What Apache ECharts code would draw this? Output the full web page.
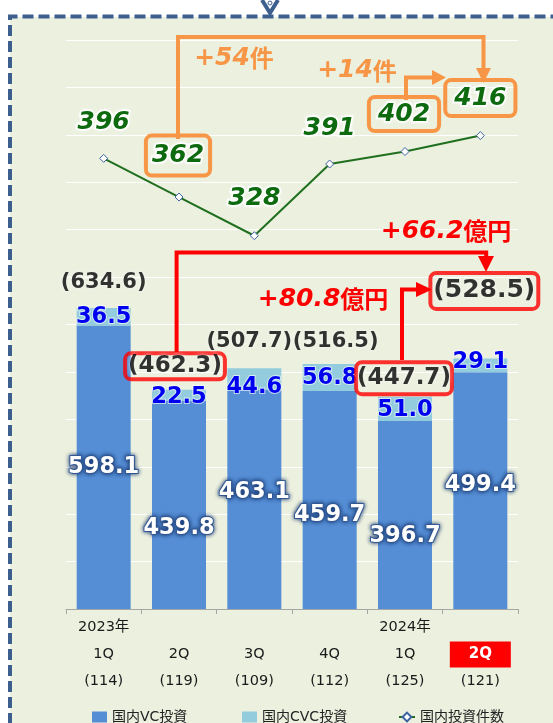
<!DOCTYPE html>
<html><head><meta charset="utf-8">
<script src="https://cdn.jsdelivr.net/npm/echarts@6/dist/echarts.min.js"></script>
<style>
html,body{margin:0;padding:0;background:#fff;}
#bg{position:absolute;left:10px;top:17px;width:543px;height:706px;background:#ebf0df;}
#c{position:absolute;left:0;top:0;width:553px;height:723px;}
</style></head><body><div id="bg"></div><div id="c"></div>
<script>
const categories = ['2023年1Q','2023年2Q','2023年3Q','2023年4Q','2024年1Q','2024年2Q'];
const yearLabels = ['2023年','','','','2024年',''];
const quarterLabels = ['1Q','2Q','3Q','4Q','1Q','2Q'];
const countLabels = ['(114)','(119)','(109)','(112)','(125)','(121)'];
const vcInvest = [598.1,439.8,463.1,459.7,396.7,499.4];
const cvcInvest = [36.5,22.5,44.6,56.8,51.0,29.1];
const dealCounts = [396,362,328,391,402,416];
const totals = vcInvest.map((v,i)=>Math.round((v+cvcInvest[i])*10)/10);

const F = "'DejaVu Sans','Noto Sans CJK JP',sans-serif";
const ORANGE = '#f79646', RED = '#ff0000', GREEN = '#0e6a0e', FRAME = '#3d5f8e';

// label style tweaks (positions only)
const vcDy = [0,23,-7,15,21,-5];
const cvcDy = [-2,-4,8,3,2,-7];
const totalLbl = [
  {distance:13},
  {distance:10, offset:[-4,0], fontSize:23, padding:[1,3], borderColor:RED, borderWidth:4, borderRadius:6},
  {distance:14, offset:[-5,0]},
  {distance:10, offset:[6,0]},
  {distance:2, offset:[-1,0], fontSize:23, padding:[4,1], borderColor:RED, borderWidth:4, borderRadius:6},
  {distance:49, offset:[4,0], fontSize:25, lineHeight:28, padding:[4,3], borderColor:RED, borderWidth:4, borderRadius:6}
];
const countLbl = [
  {distance:16},
  {distance:17, offset:[-1,0], padding:[5,6], borderColor:ORANGE, borderWidth:4, borderRadius:6},
  {distance:18},
  {distance:16},
  {distance:16, offset:[-1,0], padding:[2,9], borderColor:ORANGE, borderWidth:4, borderRadius:6},
  {distance:15, padding:[3,9], borderColor:ORANGE, borderWidth:4, borderRadius:6}
];

const chart = echarts.init(document.getElementById('c'), null, {renderer:'canvas'});

function annText(num, unit, x, y, color){
  return {type:'text', z:100, x:x, y:y, style:{
    text:'{n|'+num+'}{c|'+unit+'}', align:'center', verticalAlign:'middle',
    rich:{
      n:{fontFamily:F, fontSize:25, fontWeight:'bold', fontStyle:'italic', fill:color, color:color},
      c:{fontFamily:"'Noto Sans CJK JP',sans-serif", fontSize:24, fontWeight:'bold', fill:color, color:color}
    }}};
}
function pl(points, color){
  return {type:'polyline', z:100, shape:{points:points}, style:{stroke:color, lineWidth:4, fill:null, lineJoin:'miter'}};
}
function tri(points, color){
  return {type:'polygon', z:100, shape:{points:points}, style:{fill:color, stroke:null}};
}
const legendText = {fontFamily:F, fontSize:14, color:'#222'};

const option = {
  backgroundColor:'transparent',
  animation:false,
  textStyle:{fontFamily:F},
  grid:{left:66, right:35, top:40, bottom:114},
  legend:[
    {left:87, top:705, itemWidth:15, itemHeight:11, icon:'rect', data:['国内VC投資'], textStyle:legendText},
    {left:237, top:705, itemWidth:15, itemHeight:11, icon:'rect', data:['国内CVC投資'], textStyle:legendText},
    {left:393, top:705, itemWidth:16, itemHeight:11, data:['国内投資件数'], textStyle:legendText}
  ],
  xAxis:{
    type:'category', data:categories,
    axisLine:{lineStyle:{color:'#a6a6a6', width:1}},
    axisTick:{show:true, length:5, lineStyle:{color:'#a6a6a6'}},
    axisLabel:{
      margin:5, interval:0,
      formatter:(v,i)=>{
        const q = i===5 ? '{hl|'+quarterLabels[i]+'}' : '{q|'+quarterLabels[i]+'}';
        return '{y|'+(yearLabels[i]||' ')+'}\n'+q+'\n{n|'+countLabels[i]+'}';
      },
      rich:{
        y:{fontFamily:F, fontSize:14.5, color:'#1a1a1a', lineHeight:27},
        q:{fontFamily:F, fontSize:14.5, color:'#1a1a1a', lineHeight:27},
        n:{fontFamily:F, fontSize:14.5, color:'#1a1a1a', lineHeight:27},
        hl:{fontFamily:F, fontSize:15, fontWeight:'bold', color:'#fff', backgroundColor:RED, width:61, height:26, lineHeight:27, align:'center'}
      }
    }
  },
  yAxis:[
    {type:'value', min:0, max:1200, interval:100, axisLabel:{show:false}, axisLine:{show:false}, axisTick:{show:false},
     splitLine:{lineStyle:{color:'#ffffff', width:1}}},
    {type:'value', min:0, max:500, axisLabel:{show:false}, axisLine:{show:false}, axisTick:{show:false}, splitLine:{show:false}}
  ],
  series:[
    {name:'国内VC投資', type:'bar', stack:'t', barWidth:54, itemStyle:{color:'#558ed5'},
     data:vcInvest.map((v,i)=>({value:v, label:{offset:[0,vcDy[i]]}})),
     label:{show:true, position:'inside', formatter:p=>p.value.toFixed(1), fontFamily:F, fontSize:22.5, fontWeight:'bold', color:'#fff',
       textBorderColor:'#3d68a6', textBorderWidth:2, textShadowColor:'rgba(20,50,105,0.9)', textShadowBlur:4}},
    {name:'国内CVC投資', type:'bar', stack:'t', barWidth:54, itemStyle:{color:'#93cddd'},
     data:cvcInvest.map((v,i)=>({value:v, label:{offset:[0,cvcDy[i]]}})),
     label:{show:true, position:'insideTop', distance:0, formatter:p=>p.value.toFixed(1), fontFamily:F, fontSize:22.5, fontWeight:'bold', color:'#0000f0',
       textBorderColor:'rgba(255,255,255,0.6)', textBorderWidth:2}},
    {name:'total', type:'scatter', yAxisIndex:0, symbolSize:1, silent:true, itemStyle:{color:'rgba(0,0,0,0)'},
     data:totals.map((v,i)=>({value:v, label:totalLbl[i]})),
     label:{show:true, position:'top', formatter:p=>'('+p.value.toFixed(1)+')', fontFamily:F, fontSize:21, lineHeight:24, fontWeight:'bold', color:'#000000',
       textBorderWidth:0, textShadowColor:'rgba(255,255,255,0.95)', textShadowBlur:4}},
    {name:'国内投資件数', type:'line', yAxisIndex:1, z:5,
     data:dealCounts.map((v,i)=>({value:v, label:countLbl[i]})),
     symbol:'diamond', symbolSize:8,
     lineStyle:{color:'#1f6f1f', width:2}, itemStyle:{color:'#ffffff', borderColor:'#3b62a0', borderWidth:1},
     label:{show:true, position:'top', fontFamily:F, fontSize:25, lineHeight:30, fontWeight:'bold', fontStyle:'italic', color:GREEN,
       textBorderColor:'#ffffff', textBorderWidth:3, textShadowColor:'rgba(255,255,255,0.9)', textShadowBlur:3}}
  ],
  graphic:[
    {type:'polyline', z:50, shape:{points:[[10,740],[10,16.5],[570,16.5]]}, style:{stroke:FRAME, lineWidth:4, fill:null, lineDash:[11,5]}},
    {type:'polyline', z:50, shape:{points:[[262,0],[270,13],[278,0]]}, style:{stroke:FRAME, lineWidth:4, fill:null}},
    {type:'circle', z:51, shape:{cx:270, cy:3, r:2}, style:{fill:'#fff', stroke:FRAME, lineWidth:1}},
    pl([[178,139],[178,37],[483.5,37],[483.5,70]], ORANGE),
    tri([[476,68],[491,68],[483.5,83]], ORANGE),
    pl([[406,100],[406,77.5],[433,77.5]], ORANGE),
    tri([[432,70],[432,85],[446,77.5]], ORANGE),
    annText('+54','件',234,58,ORANGE),
    annText('+14','件',357,70.5,ORANGE),
    pl([[176.6,352],[176.6,252.5],[486.2,252.5],[486.2,258]], RED),
    tri([[478,256],[494,256],[486,272]], RED),
    pl([[402,360],[402,289.5],[417,289.5]], RED),
    tri([[416,282],[416,297],[432,289.5]], RED),
    annText('+66.2','億円',446,231,RED),
    annText('+80.8','億円',323,299,RED)
  ]
};
chart.setOption(option);
</script></body></html>
